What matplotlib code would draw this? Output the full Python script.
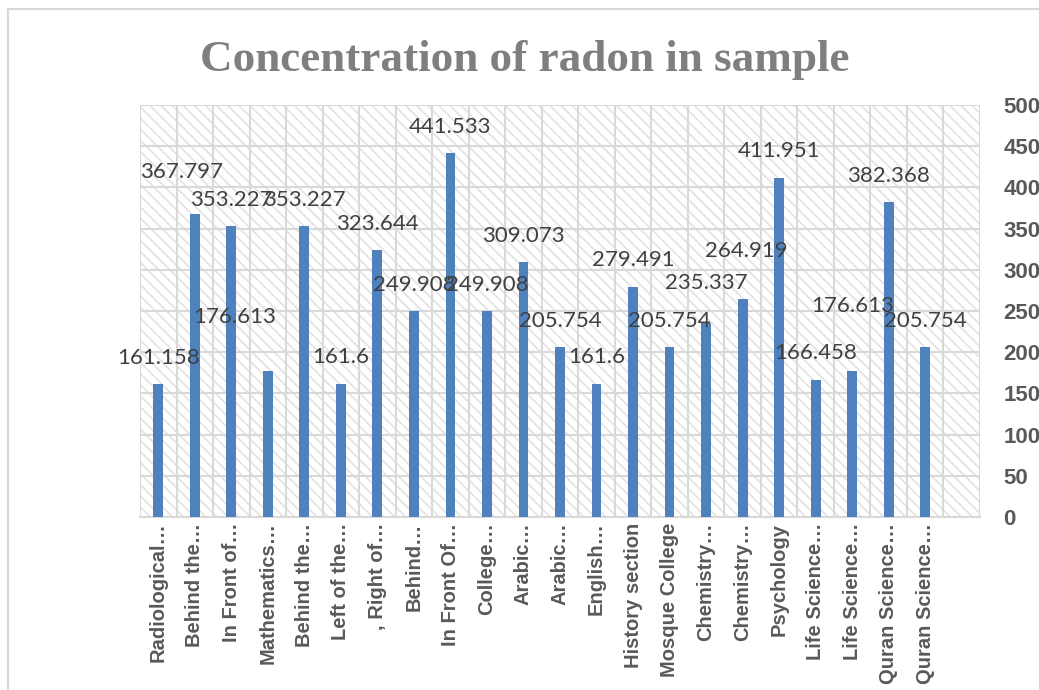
import numpy as np
import matplotlib.pyplot as plt
from matplotlib.lines import Line2D

# Sampling locations (truncated the same way the source chart shows them)
locations = ['Radiological…', 'Behind the…', 'In Front of…', 'Mathematics…',
             'Behind the…', 'Left of the…', ', Right of…', 'Behind…',
             'In Front Of…', 'College…', 'Arabic…', 'Arabic…', 'English…',
             'History section', 'Mosque College', 'Chemistry…', 'Chemistry…',
             'Psychology', 'Life Science…', 'Life Science…', 'Quran Science…',
             'Quran Science…']
radon = [161.158, 367.797, 353.227, 176.613, 353.227, 161.6, 323.644,
         249.908, 441.533, 249.908, 309.073, 205.754, 161.6, 279.491,
         205.754, 235.337, 264.919, 411.951, 166.458, 176.613, 382.368,
         205.754]
y_ticks = [0, 50, 100, 150, 200, 250, 300, 350, 400, 450, 500]

BAR = '#4F81BD'
GRID = '#D9D9D9'
TXT = '#595959'

plt.rcParams['hatch.linewidth'] = 1.2
plt.rcParams['hatch.color'] = '#E2E2E2'

fig = plt.figure(figsize=(10.39, 6.90), dpi=100)
ax = fig.add_axes([140 / 1039, 1 - 517 / 690, 840 / 1039, 412 / 690])

# hatched plot area, like the Excel pattern fill
ax.patch.set_facecolor('white')
ax.patch.set_hatch('\\\\\\')
ax.patch.set_edgecolor('#E2E2E2')

x = np.arange(len(locations))
ax.bar(x, radon, width=0.27, color=BAR, zorder=3)

# a few labels were dragged by hand in the original chart (offsets in points)
nudge = {1: (-9.5, 30), 3: (-24, 39), 15: (0, 29), 16: (3, 34), 19: (0, 47)}
for i, v in enumerate(radon):
    dx, dy = nudge.get(i, (0, 19))
    ax.annotate(f'{v:g}', (i, v), xytext=(dx, dy), textcoords='offset points',
                ha='center', va='center', fontsize=16, color='#404040',
                family='Lato', zorder=4)

ax.set_xlim(-0.5, len(locations) + 0.5)
ax.set_ylim(0, 500)

ax.set_xticks(x)
ax.set_xticklabels(locations, rotation=90, fontsize=14.5, fontweight='bold',
                   color=TXT, family='Liberation Sans')
ax.set_xticks(np.arange(-0.5, len(locations) + 1), minor=True)
ax.tick_params(axis='x', which='both', length=0, pad=4)

ax.yaxis.tick_right()
ax.set_yticks(y_ticks)
ax.set_yticklabels([str(t) for t in y_ticks], fontsize=16, fontweight='bold',
                   color=TXT, family='Liberation Sans')
ax.tick_params(axis='y', length=0, pad=17)

ax.grid(True, which='minor', axis='x', color=GRID, lw=1.5, zorder=1)
ax.grid(True, which='major', axis='y', color=GRID, lw=1.5, zorder=1)
ax.set_axisbelow(True)
for s in ['top', 'left', 'right']:
    ax.spines[s].set_visible(False)
ax.spines['bottom'].set_color(GRID)
ax.spines['bottom'].set_linewidth(1.5)

fig.text(525 / 1039, 1 - 60 / 690, 'Concentration of radon in sample',
         ha='center', va='center', fontsize=32.5, fontweight='bold',
         color='#7F7F7F', family='Liberation Serif')

# chart area border (only left and top edges are visible in the crop)
fig.add_artist(Line2D([8 / 1039, 8 / 1039], [0, 1 - 9 / 690], color=GRID, lw=1.5))
fig.add_artist(Line2D([8 / 1039, 1], [1 - 9 / 690, 1 - 9 / 690], color=GRID, lw=1.5))

fig.savefig('out.png', dpi=100)
